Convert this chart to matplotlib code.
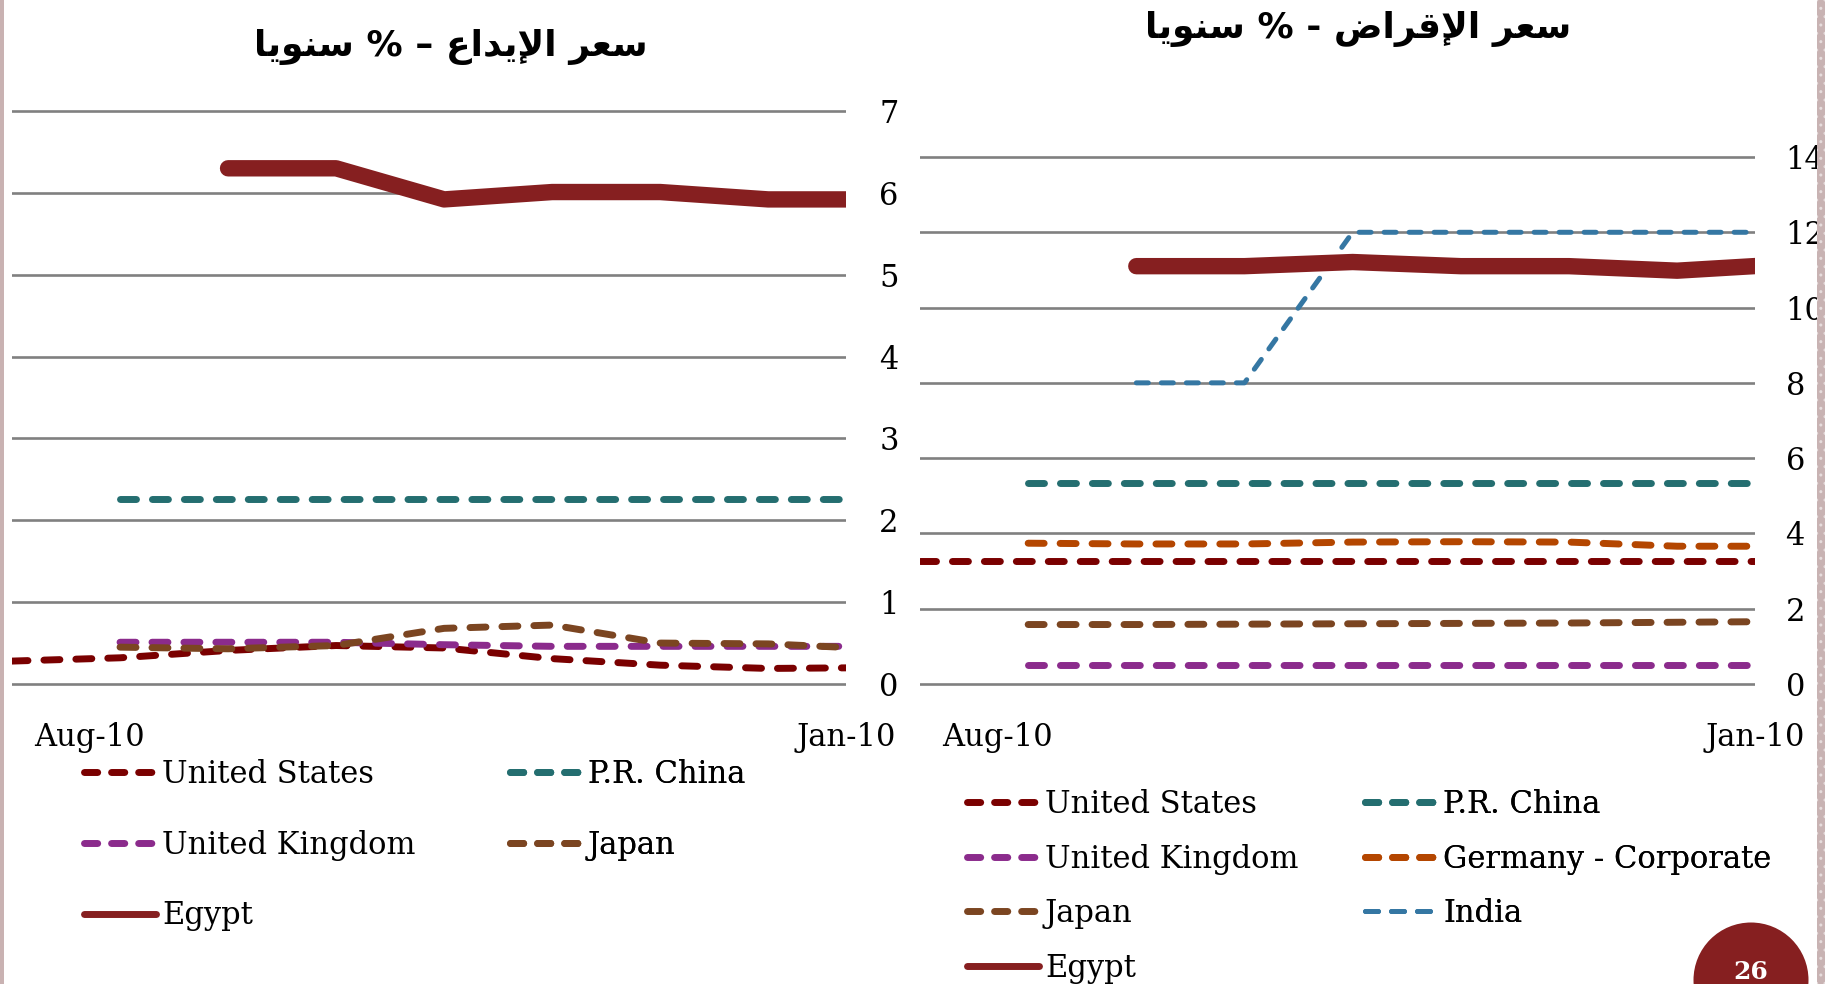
import numpy as np
import matplotlib
matplotlib.use("Agg")
import matplotlib.pyplot as plt
from matplotlib.lines import Line2D
from matplotlib.patches import Ellipse, Rectangle

nan = np.nan

# monthly points, index 0 sits on the left edge (Aug-10), axis runs back to Jan-10
months = np.arange(9)
date_ticks = [0.72, 7.72]
date_labels = ["Aug-10", "Jan-10"]

# deposit rate, % per year
dep_us = [0.28, 0.32, 0.41, 0.47, 0.44, 0.31, 0.23, 0.19, 0.20]
dep_china = [nan, 2.26, 2.26, 2.26, 2.26, 2.26, 2.26, 2.26, 2.26]
dep_uk = [nan, 0.51, 0.51, 0.51, 0.48, 0.46, 0.46, 0.46, 0.46]
dep_japan = [nan, 0.45, 0.43, 0.47, 0.68, 0.72, 0.50, 0.49, 0.43]
dep_egypt = [nan, nan, 6.30, 6.30, 5.92, 6.01, 6.01, 5.92, 5.92]

# lending rate, % per year
lend_us = [3.26, 3.26, 3.26, 3.26, 3.26, 3.26, 3.26, 3.26, 3.26]
lend_china = [nan, 5.33, 5.33, 5.33, 5.33, 5.33, 5.33, 5.33, 5.33]
lend_uk = [nan, 0.50, 0.50, 0.50, 0.50, 0.50, 0.50, 0.50, 0.50]
lend_germany = [nan, 3.74, 3.72, 3.72, 3.77, 3.78, 3.77, 3.66, 3.66]
lend_japan = [nan, 1.58, 1.58, 1.59, 1.60, 1.61, 1.62, 1.64, 1.66]
lend_india = [nan, nan, 8.0, 8.0, 12.0, 12.0, 12.0, 12.0, 12.0]
lend_egypt = [nan, nan, 11.10, 11.10, 11.21, 11.10, 11.10, 10.98, 11.15]

title_dep = "سعر الإيداع – % سنويا"
title_lend = "سعر الإقراض - % سنويا"

C_US = "#7a0000"
C_CHINA = "#246e70"
C_UK = "#8b2b8c"
C_JAPAN = "#7b4521"
C_GERMANY = "#b44600"
C_INDIA = "#3577a3"
C_EGYPT = "#861f20"

W, H = 1837, 984
plt.rcParams["font.family"] = ["DejaVu Serif"]
FS = 22


# matplotlib has no arabic shaping, so pick the presentation forms by hand
# (isolated, final, initial, medial); None = letter never joins the next one
FORMS = {
    "ا": ("\ufe8d", "\ufe8e", None, None),
    "إ": ("\ufe87", "\ufe88", None, None),
    "د": ("\ufea9", "\ufeaa", None, None),
    "ر": ("\ufead", "\ufeae", None, None),
    "و": ("\ufeed", "\ufeee", None, None),
    "س": ("\ufeb1", "\ufeb2", "\ufeb3", "\ufeb4"),
    "ض": ("\ufebd", "\ufebe", "\ufebf", "\ufec0"),
    "ع": ("\ufec9", "\ufeca", "\ufecb", "\ufecc"),
    "ق": ("\ufed5", "\ufed6", "\ufed7", "\ufed8"),
    "ل": ("\ufedd", "\ufede", "\ufedf", "\ufee0"),
    "ن": ("\ufee5", "\ufee6", "\ufee7", "\ufee8"),
    "ي": ("\ufef1", "\ufef2", "\ufef3", "\ufef4"),
}
LAM_ALEF = {"ا": ("\ufefb", "\ufefc"), "إ": ("\ufef9", "\ufefa")}


def shape_arabic(text):
    tokens = []
    i = 0
    while i < len(text):
        if text[i] == "ل" and i + 1 < len(text) and text[i + 1] in LAM_ALEF:
            tokens.append(("LA", text[i + 1]))
            i += 2
        else:
            tokens.append((text[i], None))
            i += 1

    def is_letter(t):
        return t is not None and (t[0] == "LA" or t[0] in FORMS)

    def joins_next(t):
        return is_letter(t) and t[0] != "LA" and FORMS[t[0]][2] is not None

    out = []
    for k, t in enumerate(tokens):
        prev = tokens[k - 1] if k > 0 else None
        nxt = tokens[k + 1] if k + 1 < len(tokens) else None
        if not is_letter(t):
            out.append(t[0])
            continue
        jp = joins_next(prev)
        if t[0] == "LA":
            out.append(LAM_ALEF[t[1]][1 if jp else 0])
            continue
        jn = joins_next(t) and is_letter(nxt)
        f = FORMS[t[0]]
        if jp and jn:
            out.append(f[3])
        elif jp:
            out.append(f[1])
        elif jn:
            out.append(f[2])
        else:
            out.append(f[0])
    return "".join(reversed(out))


fig = plt.figure(figsize=(W / 100, H / 100), dpi=100)
fig.patch.set_facecolor("white")


def make_axes(x0, x1, y_top, y_bot, vmax, step, label_pad):
    pad = 12
    ax = fig.add_axes([x0 / W, 1 - (y_bot + pad) / H, (x1 - x0) / W, (y_bot - y_top + 2 * pad) / H])
    per_px = vmax / (y_bot - y_top)
    ax.set_ylim(-pad * per_px, vmax + pad * per_px)
    ax.set_xlim(0, 7.72)
    ax.set_yticks(np.arange(0, vmax + 0.01, step))
    ax.yaxis.tick_right()
    ax.yaxis.grid(True, color="#808080", linewidth=1.9)
    ax.set_axisbelow(True)
    ax.set_xticks(date_ticks)
    ax.set_xticklabels(date_labels)
    ax.tick_params(axis="y", length=0, pad=label_pad, labelsize=FS)
    ax.tick_params(axis="x", length=0, pad=19, labelsize=FS)
    for s in ax.spines.values():
        s.set_visible(False)
    ax.patch.set_alpha(0)
    return ax


def dashed(ax, y, color, lw=5.0, dashes=(2.3, 2.3)):
    ax.plot(months, y, color=color, lw=lw, dashes=dashes,
            dash_capstyle="round", dash_joinstyle="round")


def solid(ax, y, color):
    ax.plot(months, y, color=color, lw=11.8, solid_capstyle="round",
            solid_joinstyle="round")


def key(color, style="dash"):
    if style == "solid":
        return Line2D([], [], color=color, lw=5.0, solid_capstyle="round")
    if style == "india":
        return Line2D([], [], color=color, lw=3.6, dashes=(2.6, 2.6), dash_capstyle="round")
    return Line2D([], [], color=color, lw=5.0, dashes=(1.9, 2.0), dash_capstyle="round")


def column_legend(ax, handles, labels, x_px, y_first, spacing):
    leg = ax.legend(handles, labels, loc="upper left",
                    bbox_to_anchor=(x_px / W, 1 - (y_first - 14) / H),
                    bbox_transform=fig.transFigure, frameon=False,
                    borderpad=0, borderaxespad=0, handlelength=2.35,
                    handletextpad=0.2, labelspacing=spacing, fontsize=FS)
    ax.add_artist(leg)


# deposit rates
ax1 = make_axes(12, 846, 111, 684, 7, 1, 24)
dashed(ax1, dep_us, C_US)
dashed(ax1, dep_china, C_CHINA)
dashed(ax1, dep_uk, C_UK)
dashed(ax1, dep_japan, C_JAPAN)
solid(ax1, dep_egypt, C_EGYPT)

column_legend(ax1, [key(C_US), key(C_UK), key(C_EGYPT, "solid")],
              ["United States", "United Kingdom", "Egypt"], 84, 773, 1.3)
column_legend(ax1, [key(C_CHINA), key(C_JAPAN)],
              ["P.R. China", "Japan"], 510, 773, 1.3)

# lending rates
ax2 = make_axes(920, 1755, 157, 684, 14, 2, 22)
dashed(ax2, lend_us, C_US)
dashed(ax2, lend_china, C_CHINA)
dashed(ax2, lend_uk, C_UK)
dashed(ax2, lend_germany, C_GERMANY)
dashed(ax2, lend_japan, C_JAPAN)
dashed(ax2, lend_india, C_INDIA, lw=3.6, dashes=(2.4, 2.6))
solid(ax2, lend_egypt, C_EGYPT)

column_legend(ax2, [key(C_US), key(C_UK), key(C_JAPAN), key(C_EGYPT, "solid")],
              ["United States", "United Kingdom", "Japan", "Egypt"], 967, 803, 0.77)
column_legend(ax2, [key(C_CHINA), key(C_GERMANY), key(C_INDIA, "india")],
              ["P.R. China", "Germany - Corporate", "India"], 1365, 803, 0.77)

# titles
fig.text(451 / W, 1 - 47 / H, shape_arabic(title_dep), ha="center", va="center",
         fontsize=26, fontweight="bold", family=["DejaVu Sans"])
fig.text(1358 / W, 1 - 29 / H, shape_arabic(title_lend), ha="center", va="center",
         fontsize=26, fontweight="bold", family=["DejaVu Sans"])

# slide frame and page number badge
fig.patches.append(Rectangle((0, 0), 4 / W, 1, transform=fig.transFigure,
                             facecolor="#c9b2b2", edgecolor="none", zorder=10))
fig.patches.append(Rectangle((1817 / W, 0), 8 / W, 1, transform=fig.transFigure,
                             facecolor="#c8b3b3", edgecolor="#e6dcdc", hatch="..",
                             linewidth=0, zorder=10))
fig.patches.append(Ellipse((1751 / W, 1 - 980 / H), 115 / W, 115 / H,
                           transform=fig.transFigure, facecolor=C_EGYPT,
                           edgecolor="none", zorder=10))
fig.text(1751 / W, 1 - 979 / H, "26", ha="center", va="baseline", color="white",
         fontsize=18, fontweight="bold", zorder=11)

fig.savefig("out.png", dpi=100)
